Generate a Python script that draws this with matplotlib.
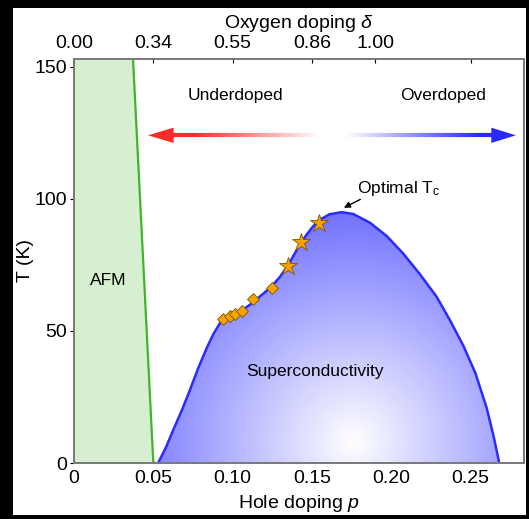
import numpy as np
import matplotlib
matplotlib.use("Agg")
import matplotlib.pyplot as plt
from matplotlib.patches import Polygon, Rectangle
from matplotlib.collections import LineCollection

plt.rcParams['font.family'] = ['Liberation Sans', 'DejaVu Sans']
plt.rcParams['mathtext.fontset'] = 'custom'
plt.rcParams['mathtext.rm'] = 'Liberation Sans'
plt.rcParams['mathtext.it'] = 'Liberation Sans:italic'

# superconducting dome boundary (hole doping p, Tc in K)
dome_p = [0.053, 0.058, 0.0626, 0.068, 0.0731, 0.078, 0.0836, 0.088, 0.092, 0.098,
          0.1046, 0.111, 0.117, 0.124, 0.1298, 0.135, 0.1403, 0.146, 0.1506, 0.156,
          0.161, 0.1687, 0.176, 0.1865, 0.197, 0.2075, 0.218, 0.2285, 0.237, 0.2453,
          0.253, 0.26, 0.2645, 0.268]
dome_T = [0, 6, 12.6, 20, 27.7, 35.5, 43.5, 49, 53, 55.3,
          57.3, 60, 63, 66.5, 70.5, 75, 80.6, 86, 89.6, 92.5,
          94.2, 95.0, 94.3, 91, 86, 79.3, 71.5, 63, 54, 44.5,
          34, 21, 10, 0]

# AFM boundary
afm_p = [0.0372, 0.050]
afm_T = [153, 0]

# measured samples
diamond_p = [0.0937, 0.0983, 0.1014, 0.1056, 0.113, 0.1245]
diamond_T = [54.5, 55.7, 56.4, 57.7, 62.0, 66.1]
star_p = [0.135, 0.143, 0.1544]
star_T = [74.5, 83.7, 91.0]

bottom_ticks = [0, 0.05, 0.10, 0.15, 0.20, 0.25]
bottom_labels = ['0', '0.05', '0.10', '0.15', '0.20', '0.25']
top_ticks = [0, 0.05, 0.10, 0.15, 0.19, 0.25]
top_labels = ['0.00', '0.34', '0.55', '0.86', '1.00', '']
y_ticks = [0, 50, 100, 150]

xmax, ymax = 0.2836, 153

fig = plt.figure(figsize=(5.29, 5.19), dpi=100, facecolor='black')
fig.patches.append(Rectangle((13 / 529, 4 / 519), 513 / 529, 507 / 519,
                             transform=fig.transFigure, facecolor='white',
                             edgecolor='none', zorder=-5))
ax = fig.add_axes([74 / 529, 1 - 463 / 519, 450 / 529, 404 / 519])
ax.set_xlim(0, xmax)
ax.set_ylim(0, ymax)

# AFM region
ax.fill([0, afm_p[1], afm_p[0], 0], [0, 0, ymax, ymax], color='#d6efd0', lw=0, zorder=1)
ax.plot(afm_p, afm_T, color='#3fb52a', lw=1.6, zorder=2)

# dome with radial white-to-blue shading
dome = Polygon(np.column_stack([dome_p, dome_T]), closed=True, facecolor='none',
               edgecolor='none')
ax.add_patch(dome)
gx, gy = np.meshgrid(np.linspace(0, xmax, 400), np.linspace(0, ymax, 400))
r = np.hypot((gx - 0.176) * 1587, (gy - 8) * 2.647)
f = np.clip(r / 265, 0, 1)
base = np.array([92, 92, 255]) / 255
img = np.ones(gx.shape + (3,)) * (1 - f[..., None]) + base * f[..., None]
im = ax.imshow(img, extent=[0, xmax, 0, ymax], origin='lower', aspect='auto',
               interpolation='bilinear', zorder=2)
im.set_clip_path(dome)
ax.plot(dome_p, dome_T, color='#2b2bff', lw=1.8, zorder=3)

ax.plot(diamond_p, diamond_T, 'D', ms=6.5, mfc='#f5a300', mec='#7a5600', mew=0.6, zorder=4)
ax.plot(star_p, star_T, '*', ms=13.5, mfc='#f5a300', mec='#7a5600', mew=0.6, zorder=4)

# doping arrow: red fading out to the right, blue fading in
y_arr = 124.1
x0, x1 = 0.0618, 0.264
xs = np.linspace(x0, x1, 300)
segs = [[(xs[i], y_arr), (xs[i + 1], y_arr)] for i in range(len(xs) - 1)]
cols = []
for xm in (xs[:-1] + xs[1:]) / 2:
    a_red = np.clip((0.155 - xm) / (0.155 - 0.075), 0, 1)
    a_blue = np.clip((xm - 0.171) / (0.255 - 0.171), 0, 1)
    if a_red > 0:
        cols.append((1, 0.16, 0.16, a_red))
    else:
        cols.append((0.16, 0.16, 1, a_blue))
ax.add_collection(LineCollection(segs, colors=cols, linewidths=3.0, zorder=3))
ax.fill([0.0466, x0 + 0.001, x0 + 0.001], [y_arr, y_arr + 2.9, y_arr - 2.9],
        color='#ff2a2a', lw=0, zorder=3)
ax.fill([0.2785, x1 - 0.001, x1 - 0.001], [y_arr, y_arr + 2.9, y_arr - 2.9],
        color='#2a2aff', lw=0, zorder=3)

ax.text(0.102, 139.2, 'Underdoped', fontsize=12.5, ha='center', va='center')
ax.text(0.2325, 139.2, 'Overdoped', fontsize=12.5, ha='center', va='center')
ax.text(0.0215, 69.2, 'AFM', fontsize=12.5, ha='center', va='center', zorder=5)
ax.text(0.152, 34.5, 'Superconductivity', fontsize=12.5, ha='center', va='center', zorder=5)
ax.text(0.1784, 104, r'Optimal T$_{\rm c}$', fontsize=12.5, ha='left', va='center')
ax.annotate('', xy=(0.1685, 96.2), xytext=(0.182, 100.3),
            arrowprops=dict(arrowstyle='-|>', color='black', lw=1.0, mutation_scale=9))

ax.set_xticks(bottom_ticks)
ax.set_xticklabels(bottom_labels)
ax.set_yticks(y_ticks)
ax.tick_params(axis='x', direction='in', length=3, labelsize=14, pad=5)
ax.tick_params(axis='y', direction='out', length=3, labelsize=14, pad=2)
ax.set_xlabel(r'Hole doping $\it{p}$', fontsize=14, labelpad=4)
ax.set_ylabel('T (K)', fontsize=14)
ax.yaxis.set_label_coords(-0.088, 0.5)

top = ax.twiny()
top.set_xlim(0, xmax)
top.set_xticks(top_ticks)
top.set_xticklabels(top_labels)
top.tick_params(axis='x', direction='in', length=3, labelsize=14, pad=5)
top.set_xlabel(r'Oxygen doping $\delta$', fontsize=14, labelpad=5)

for a in (ax, top):
    for s in a.spines.values():
        s.set_color('#7a7a7a')
        s.set_linewidth(1.3)
        s.set_zorder(6)

fig.savefig('out.png', dpi=100, facecolor=fig.get_facecolor())
